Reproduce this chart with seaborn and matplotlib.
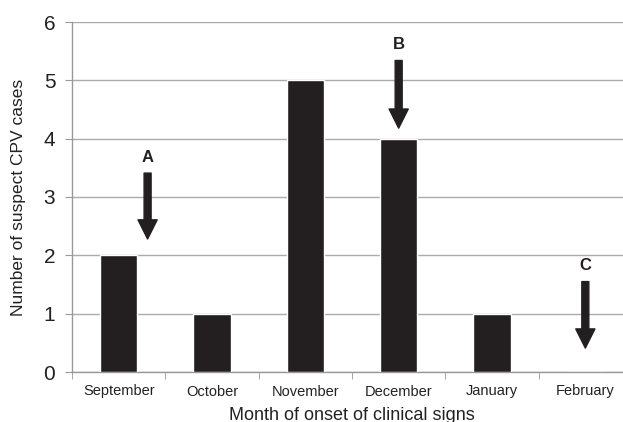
import matplotlib
matplotlib.use("Agg")
import matplotlib.pyplot as plt
import pandas as pd
import seaborn as sns

# data
months = ["September", "October", "November", "December", "January", "February"]
cases = [2, 1, 5, 4, 1, 0]

# arrows: label, x (category index), top y, tip y
arrow_labels = ["A", "B", "C"]
arrow_x = [0.31, 3.0, 5.0]
arrow_top = [3.41, 5.34, 1.55]
arrow_tip = [2.28, 4.18, 0.41]

sns.set_style("white")
plt.rcParams["font.family"] = ["Liberation Sans", "DejaVu Sans"]

df = pd.DataFrame({"month": months, "cases": cases})

fig = plt.figure(figsize=(6.23, 4.22), dpi=100)
ax = fig.add_axes([72 / 623, 50 / 422, 560 / 623, 350 / 422])

sns.barplot(data=df, x="month", y="cases", color="#231f20", saturation=1,
            width=0.4, ax=ax, zorder=3)

ax.set_xlim(-0.5, 5.5)
ax.set_ylim(0, 6)
ax.set_yticks(range(0, 7))
ax.yaxis.grid(True, color="#ababab", linewidth=1, zorder=0)
ax.set_axisbelow(True)

# ticks at category boundaries, labels at centers
ax.set_xticks([i - 0.5 for i in range(len(months) + 1)], minor=True)
ax.tick_params(axis="x", which="major", length=0, labelsize=10.5, pad=9, labelcolor="#222222")
ax.tick_params(axis="x", which="minor", length=5, color="#999999", direction="out", bottom=True)
ax.tick_params(axis="y", length=5, color="#999999", direction="out", left=True,
               labelsize=15, pad=7, labelcolor="#222222")

for side in ["top", "right"]:
    ax.spines[side].set_visible(False)
for side in ["left", "bottom"]:
    ax.spines[side].set_color("#999999")
    ax.spines[side].set_linewidth(1)

ax.set_xlabel("Month of onset of clinical signs", fontsize=13, color="#222222", labelpad=6)
ax.set_ylabel("Number of suspect CPV cases", fontsize=12.5, color="#222222", labelpad=13)

for lab, x, y0, y1 in zip(arrow_labels, arrow_x, arrow_top, arrow_tip):
    ax.annotate("", xy=(x, y1), xytext=(x, y0),
                arrowprops=dict(arrowstyle="simple,head_width=1.15,head_length=1.15,tail_width=0.42",
                                color="#231f20", mutation_scale=12, shrinkA=0, shrinkB=0),
                zorder=4)
    ax.text(x, y0 + 0.27, lab, ha="center", va="center", fontsize=12,
            fontweight="bold", color="#231f20")

fig.savefig("out.png", dpi=100)
plt.close()
